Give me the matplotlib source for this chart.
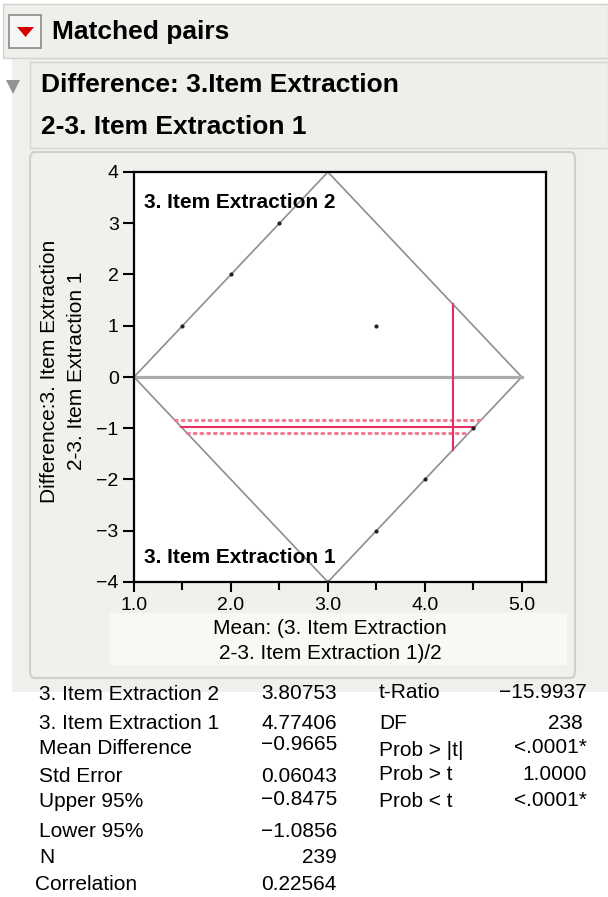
"""Matched pairs difference plot (JMP style) with summary table."""

from __future__ import annotations

import matplotlib as mpl
import matplotlib.pyplot as plt
from matplotlib.patches import FancyBboxPatch, Polygon, Rectangle

mpl.use('Agg')

WIDTH_PX = 608
HEIGHT_PX = 897
DPI = 100

# rating scale of both items
RATING_MIN = 1.0
RATING_MAX = 5.0

# observed (mean, difference) pairs
POINT_MEAN = [1.5, 2.0, 2.5, 3.5, 3.0, 3.5, 4.0, 4.5]
POINT_DIFF = [1.0, 2.0, 3.0, 1.0, -4.0, -3.0, -2.0, -1.0]

# summary statistics
MEAN_ITEM_2 = 3.80753
MEAN_ITEM_1 = 4.77406
MEAN_DIFF = -0.9665
UPPER_95 = -0.8475
LOWER_95 = -1.0856

LEFT_LABELS = ['3. Item Extraction 2', '3. Item Extraction 1', 'Mean Difference',
               'Std Error', 'Upper 95%', 'Lower 95%', 'N', 'Correlation']
LEFT_VALUES = ['3.80753', '4.77406', '\u22120.9665', '0.06043',
               '\u22120.8475', '\u22121.0856', '239', '0.22564']
RIGHT_LABELS = ['t-Ratio', 'DF', 'Prob > |t|', 'Prob > t', 'Prob < t']
RIGHT_VALUES = ['\u221215.9937', '238', '<.0001*', '1.0000', '<.0001*']

X_TICKS = [1.0, 2.0, 3.0, 4.0, 5.0]
X_MINOR = [1.5, 2.5, 3.5, 4.5]
Y_TICKS = [-4, -3, -2, -1, 0, 1, 2, 3, 4]

RED = '#e6305f'
RED_LIGHT = '#f27a97'
GRAY_LINE = '#8e8e8e'
PANEL = '#efefeb'


def fx(x):
    return x / WIDTH_PX


def fy(y):
    return 1 - y / HEIGHT_PX


def rect(fig, x0, y0, x1, y1, face, edge='none', lw=0.0, rounded=False):
    if rounded:
        patch = FancyBboxPatch(
            (fx(x0), fy(y1)), fx(x1 - x0), (y1 - y0) / HEIGHT_PX,
            boxstyle='round,pad=0,rounding_size=0.008',
            transform=fig.transFigure, facecolor=face, edgecolor=edge,
            linewidth=lw, zorder=-1,
        )
    else:
        patch = Rectangle(
            (fx(x0), fy(y1)), fx(x1 - x0), (y1 - y0) / HEIGHT_PX,
            transform=fig.transFigure, facecolor=face, edgecolor=edge,
            linewidth=lw, zorder=-1,
        )
    fig.patches.append(patch)


def draw_chrome(fig):
    # outer report panel
    rect(fig, 12, 58, 608, 692, PANEL)
    # title bar
    rect(fig, 3, 4, 608, 58, '#eeeeea', edge='#d2d2ce', lw=1.0)
    rect(fig, 9, 15, 41, 48, '#f6f6f4', edge='#8a8a8a', lw=1.2)
    fig.patches.append(Polygon(
        [(fx(17), fy(27)), (fx(34), fy(27)), (fx(25.5), fy(37))],
        closed=True, transform=fig.transFigure, facecolor='#d40000',
        edgecolor='none', zorder=-0.5,
    ))
    fig.text(fx(52), fy(32), 'Matched pairs', fontsize=19, fontweight='bold',
             ha='left', va='center')

    # outline node
    fig.patches.append(Polygon(
        [(fx(6), fy(80)), (fx(20), fy(80)), (fx(13), fy(94))],
        closed=True, transform=fig.transFigure, facecolor='#939393',
        edgecolor='none', zorder=-0.5,
    ))
    rect(fig, 30, 62, 608, 148, '#eeeeea', edge='#d4d4d0', lw=1.0)
    fig.text(fx(41), fy(85), 'Difference: 3.Item Extraction', fontsize=19,
             fontweight='bold', ha='left', va='center')
    fig.text(fx(41), fy(127), '2-3. Item Extraction 1', fontsize=19,
             fontweight='bold', ha='left', va='center')

    # plot frame
    rect(fig, 30, 152, 575, 678, '#f0f0ec', edge='#cfcfcb', lw=1.5, rounded=True)
    rect(fig, 110, 613, 567, 665, '#f8f8f4')


def draw_plot(fig):
    ax = fig.add_axes([fx(134), fy(582), fx(546 - 134), (582 - 172) / HEIGHT_PX])
    ax.set_zorder(5)
    ax.set_facecolor('white')

    mid = (RATING_MIN + RATING_MAX) / 2
    span = RATING_MAX - RATING_MIN
    diamond_x = [RATING_MIN, mid, RATING_MAX, mid, RATING_MIN]
    diamond_y = [0, span, 0, -span, 0]
    ax.plot(diamond_x, diamond_y, color=GRAY_LINE, linewidth=1.2, zorder=2)
    ax.plot([RATING_MIN, RATING_MAX], [0, 0], color='#ababab', linewidth=2.3,
            zorder=2)

    # mean difference and confidence limits, clipped to the diamond
    for value, style, color, lw in (
        (UPPER_95, (0, (0.6, 1.6)), RED_LIGHT, 2.2),
        (MEAN_DIFF, '-', RED, 1.5),
        (LOWER_95, (0, (0.6, 1.6)), RED_LIGHT, 2.2),
    ):
        x0 = RATING_MIN + abs(value) / 2
        x1 = RATING_MAX - abs(value) / 2
        ax.plot([x0, x1], [value, value], color=color, linestyle=style,
                linewidth=lw, dash_capstyle='round', zorder=3)

    mean_of_means = (MEAN_ITEM_2 + MEAN_ITEM_1) / 2
    half = 2 * (RATING_MAX - mean_of_means)
    ax.plot([mean_of_means, mean_of_means], [-half, half], color=RED,
            linewidth=1.5, zorder=3)

    ax.scatter(POINT_MEAN, POINT_DIFF, s=9, color='#222222', zorder=4,
               linewidths=0)

    ax.set_xlim(RATING_MIN, 5.25)
    ax.set_ylim(-4, 4)
    ax.set_xticks(X_TICKS)
    ax.set_xticks(X_MINOR, minor=True)
    ax.set_xticklabels([f'{t:.1f}' for t in X_TICKS])
    ax.set_yticks(Y_TICKS)
    ax.set_yticklabels([f'{t}'.replace('-', '\u2212') for t in Y_TICKS])
    ax.tick_params(axis='both', direction='out', width=1.5, labelsize=14,
                   color='black')
    ax.tick_params(axis='y', length=8, pad=3)
    ax.tick_params(axis='x', which='major', length=7.5, pad=3)
    ax.tick_params(axis='x', which='minor', length=5.5, width=1.5)
    for spine in ax.spines.values():
        spine.set_linewidth(1.6)

    ax.text(0.025, 0.925, '3. Item Extraction 2', transform=ax.transAxes,
            fontsize=15, fontweight='bold', ha='left', va='center')
    ax.text(0.025, 0.06, '3. Item Extraction 1', transform=ax.transAxes,
            fontsize=15, fontweight='bold', ha='left', va='center')

    fig.text(fx(330), fy(641), 'Mean: (3. Item Extraction\n2-3. Item Extraction 1)/2',
             fontsize=15, ha='center', va='center', linespacing=1.45)
    fig.text(fx(63), fy(371), 'Difference:3. Item Extraction\n2-3. Item Extraction 1',
             fontsize=15, ha='center', va='center', rotation=90,
             linespacing=1.55)


def draw_table(fig):
    left_x = [39, 39, 39, 39, 39, 39, 39, 35]
    left_y = [694, 723, 748, 776, 801, 831, 857, 884]
    value_y = [693, 723, 744, 776, 799, 831, 857, 884]
    right_label_y = [692, 723, 751, 774, 801]
    right_value_y = [692, 723, 747, 774, 800]
    right_value_x = [587, 583, 587, 522, 587]
    right_value_ha = ['right', 'right', 'right', 'left', 'right']

    for label, x, y in zip(LEFT_LABELS, left_x, left_y):
        fig.text(fx(x), fy(y), label, fontsize=15, ha='left', va='center')
    for value, y in zip(LEFT_VALUES, value_y):
        fig.text(fx(337), fy(y), value, fontsize=15, ha='right', va='center')
    for label, y in zip(RIGHT_LABELS, right_label_y):
        fig.text(fx(379), fy(y), label, fontsize=15, ha='left', va='center')
    for value, x, y, ha in zip(RIGHT_VALUES, right_value_x, right_value_y,
                               right_value_ha):
        fig.text(fx(x), fy(y), value, fontsize=15, ha=ha, va='center')


def main() -> None:
    plt.rcParams['font.family'] = ['Liberation Sans', 'DejaVu Sans']
    fig = plt.figure(figsize=(WIDTH_PX / DPI, HEIGHT_PX / DPI), dpi=DPI)
    fig.patch.set_facecolor('white')

    draw_chrome(fig)
    draw_plot(fig)
    draw_table(fig)

    fig.savefig('out.png', dpi=DPI)


if __name__ == '__main__':
    main()
